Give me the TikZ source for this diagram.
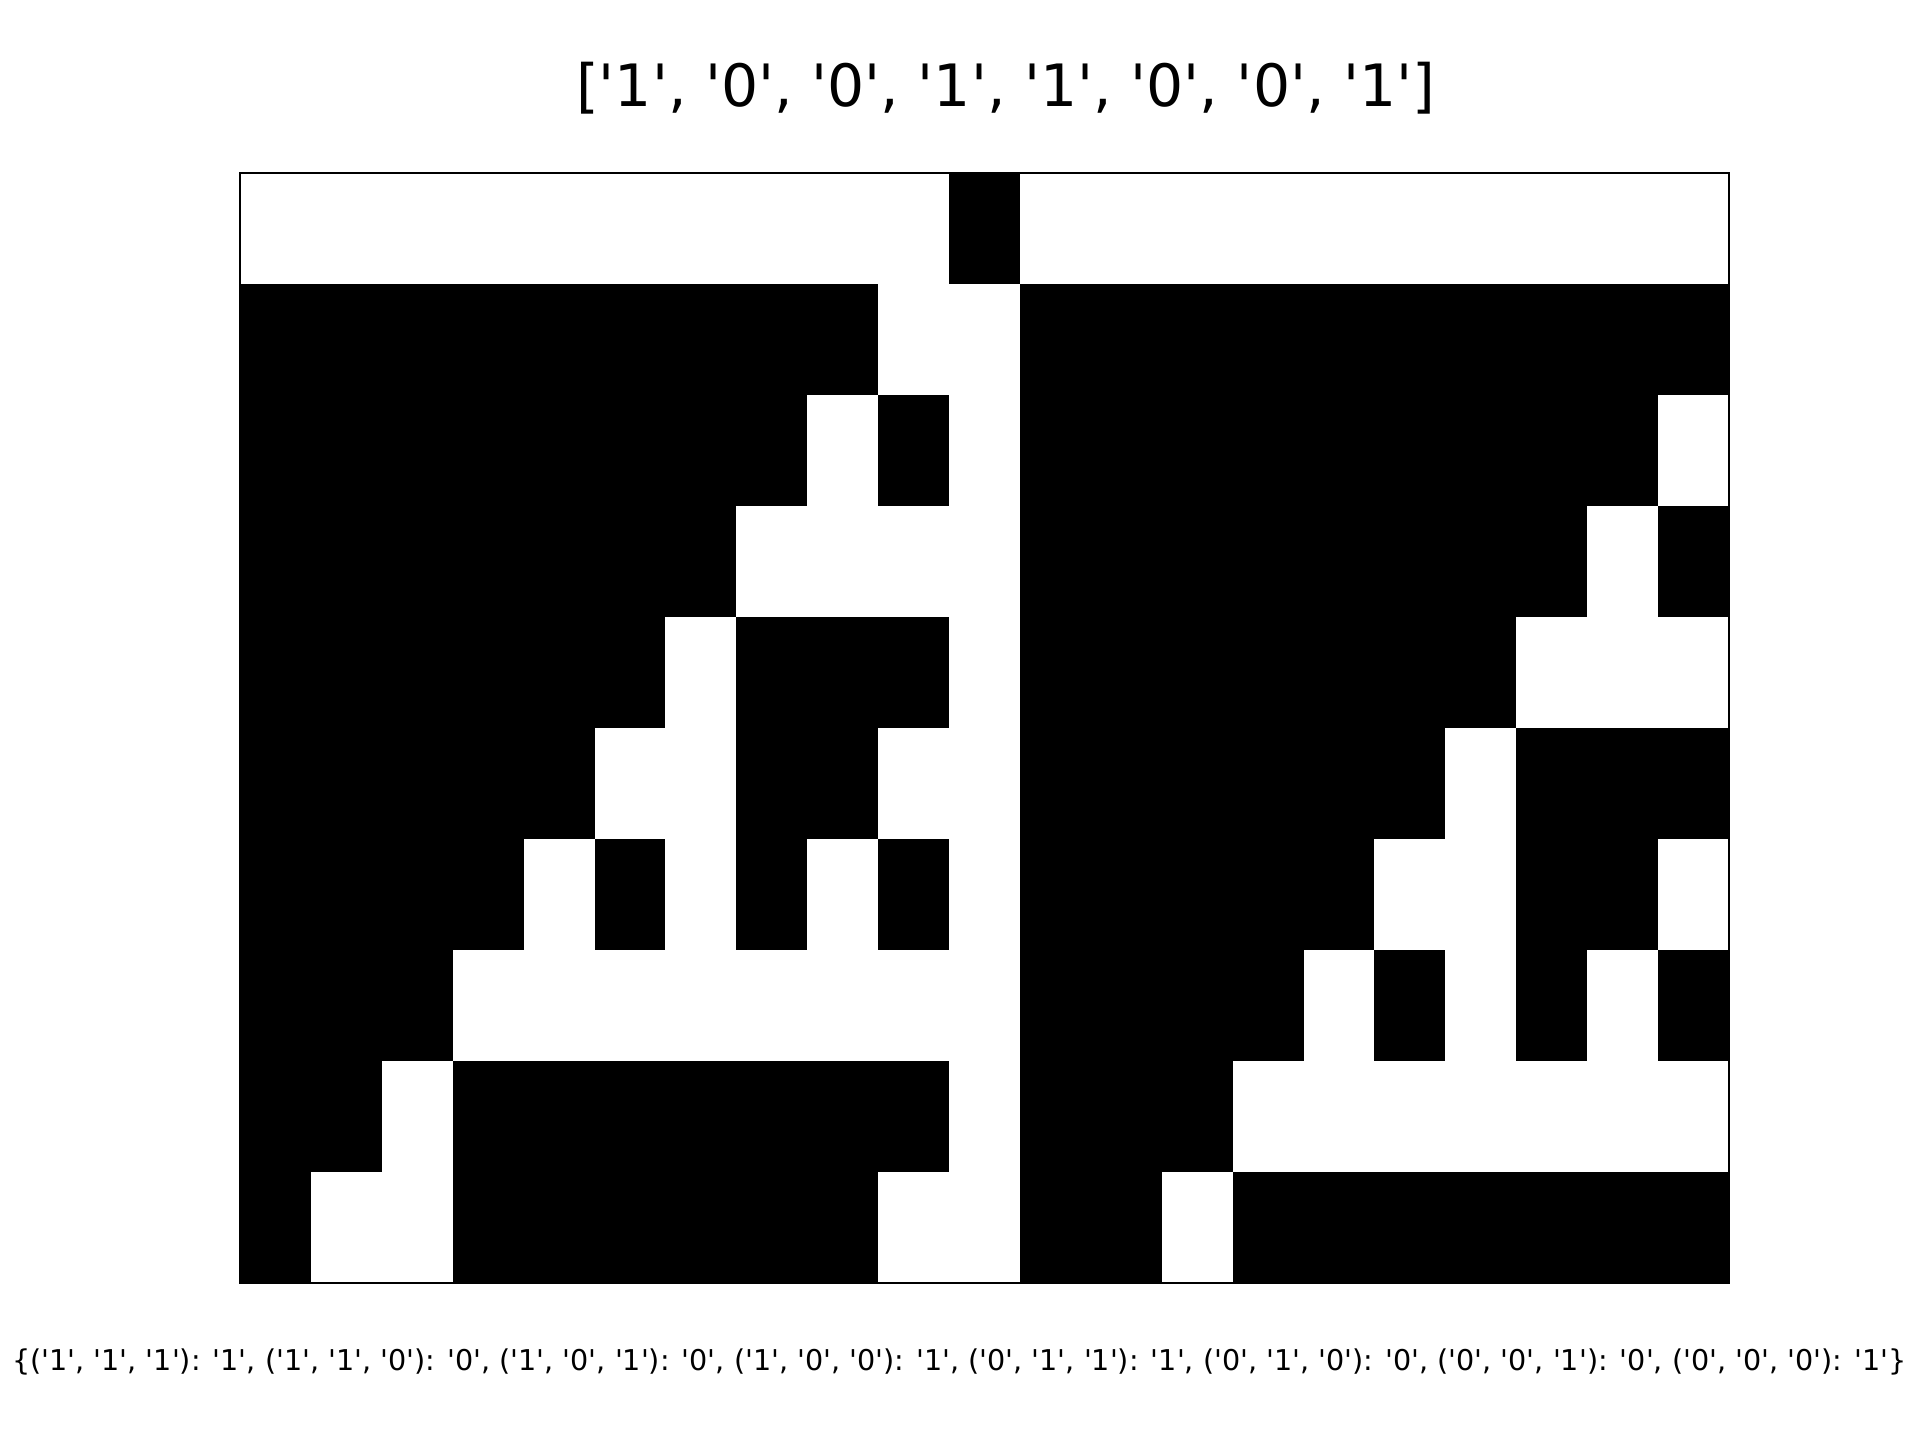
\documentclass[tikz,border=0pt]{standalone}
\usepackage{fontspec}
\setmainfont{DejaVu Sans}[Ligatures=TeXOff]
\begin{document}
\begin{tikzpicture}[x=0.01cm,y=-0.01cm,
  cellfill/.style={fill=black,draw=none},
  frame/.style={draw=black,line width=0.6pt},
  titletext/.style={font=\fontsize{16.6pt}{20pt}\selectfont,anchor=base,inner sep=0pt},
  ruletext/.style={font=\fontsize{8.14pt}{10pt}\selectfont,anchor=base,inner sep=0pt}]
\useasboundingbox[fill=white] (0,0) rectangle (1920,1440);
\def\xl{240}\def\yt{173}
\pgfmathsetmacro{\cw}{1489/21}
\def\ch{111}
\foreach \r/\a/\b in {0/10/10,
  1/0/8,1/11/20,
  2/0/7,2/9/9,2/11/19,
  3/0/6,3/11/18,3/20/20,
  4/0/5,4/7/9,4/11/17,
  5/0/4,5/7/8,5/11/16,5/18/20,
  6/0/3,6/5/5,6/7/7,6/9/9,6/11/15,6/18/19,
  7/0/2,7/11/14,7/16/16,7/18/18,7/20/20,
  8/0/1,8/3/9,8/11/13,
  9/0/0,9/3/8,9/11/12,9/14/20}{
  \fill[cellfill] ({\xl+\a*\cw},{\yt+\r*\ch}) rectangle ({\xl+(\b+1)*\cw},{\yt+(\r+1)*\ch});
}
\draw[frame] (240,173) rectangle (1729,1283);
\node[titletext] (title) at (1005.7,106.7) {['1', '0', '0', '1', '1', '0', '0', '1']};
\node[ruletext] (rules) at (959.5,1370) {\{('1', '1', '1'): '1', ('1', '1', '0'): '0', ('1', '0', '1'): '0', ('1', '0', '0'): '1', ('0', '1', '1'): '1', ('0', '1', '0'): '0', ('0', '0', '1'): '0', ('0', '0', '0'): '1'\}};
\end{tikzpicture}
\end{document}
